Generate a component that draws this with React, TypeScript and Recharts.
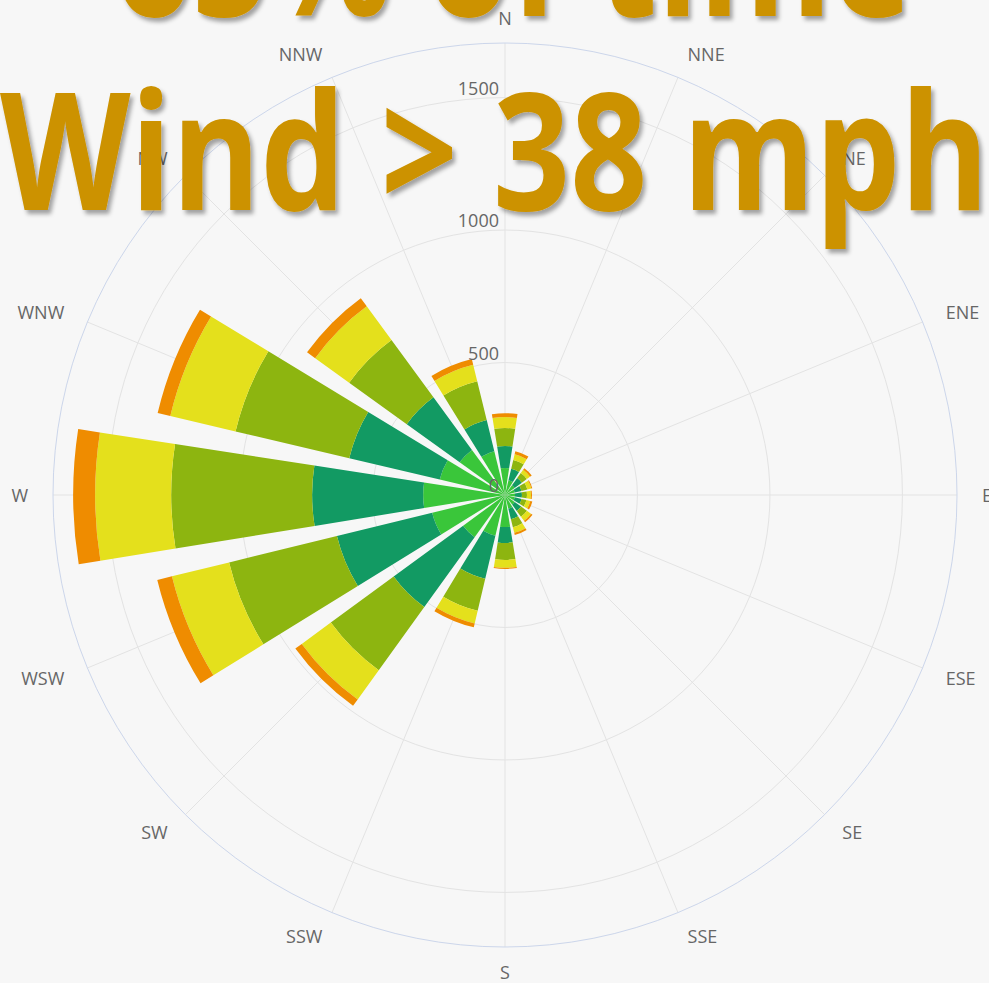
import React from "react";
import {
  RadialBarChart,
  RadialBar,
  PolarAngleAxis,
  PolarRadiusAxis,
  PolarGrid,
} from "recharts";

// wind directions, clockwise from north
const directions = [
  "N", "NNE", "NE", "ENE", "E", "ESE", "SE", "SSE",
  "S", "SSW", "SW", "WSW", "W", "WNW", "NW", "NNW",
];
// compass bearing of each direction (degrees)
const bearings = [
  0, 22.5, 45, 67.5, 90, 112.5, 135, 157.5,
  180, 202.5, 225, 247.5, 270, 292.5, 315, 337.5,
];

// frequency per speed band (innermost band first)
const band1 = [102, 57, 45, 38, 38, 38, 45, 53, 121, 158, 196, 283, 309, 253, 211, 170];
const band2 = [83, 45, 34, 26, 26, 26, 30, 41, 60, 167, 325, 370, 419, 351, 246, 121];
const band3 = [68, 34, 23, 23, 19, 19, 27, 31, 64, 124, 294, 419, 532, 441, 268, 151];
const band4 = [41, 22, 15, 15, 15, 15, 19, 22, 30, 49, 136, 222, 287, 253, 158, 64];
const band5 = [15, 12, 8, 4, 4, 8, 7, 8, 4, 15, 30, 57, 83, 49, 38, 22];

const radiusTicks = [0, 500, 1000, 1500];

const bandColors = ["#3ac63a", "#129a63", "#8db510", "#e4e01c", "#ef8c00"];
const bandKeys = ["b1", "b2", "b3", "b4", "b5"];

const data = directions.map((dir, i) => ({
  dir,
  bearing: bearings[i],
  b1: band1[i],
  b2: band2[i],
  b3: band3[i],
  b4: band4[i],
  b5: band5[i],
}));

const labelFont = "'Open Sans', sans-serif";

// direction labels: anchored away from the circle, vertically centred
const AngleTick = (props: any) => {
  const { x, y, payload, textAnchor } = props;
  const idx = bearings.indexOf(payload.value);
  return (
    <text
      x={x}
      y={y}
      textAnchor={textAnchor}
      dominantBaseline="central"
      fill="#666"
      fontSize={18}
      fontFamily={labelFont}
    >
      {directions[idx]}
    </text>
  );
};

// radius labels sit just above each circle, left of the north spoke
const RadiusTick = (props: any) => {
  const { x, y, payload } = props;
  return (
    <text
      x={x - 6}
      y={y - 3}
      textAnchor="end"
      fill="#666"
      fontSize={18}
      fontFamily={labelFont}
    >
      {payload.value}
    </text>
  );
};

export default function App() {
  return (
    <div
      style={{
        position: "fixed",
        left: 0,
        top: 0,
        width: 989,
        height: 983,
        background: "#f7f7f7",
        overflow: "hidden",
      }}
    >
      <RadialBarChart
        width={989}
        height={983}
        data={data}
        layout="centric"
        cx={505}
        cy={495}
        innerRadius={0}
        outerRadius={452}
        startAngle={90}
        endAngle={-270}
        barCategoryGap="11%"
        margin={{ top: 0, right: 0, bottom: 0, left: 0 }}
      >
        <PolarGrid gridType="circle" stroke="#e3e3e3" />
        <PolarAngleAxis
          dataKey="bearing"
          type="number"
          domain={[0, 360]}
          ticks={bearings}
          axisLine={{ stroke: "#ccd6eb" }}
          axisLineType="circle"
          tickLine={false}
          tickSize={25}
          tick={<AngleTick />}
        />
        <PolarRadiusAxis
          type="number"
          angle={90}
          domain={[0, 1706]}
          ticks={radiusTicks}
          allowDataOverflow
          axisLine={false}
          tickLine={false}
          tick={<RadiusTick />}
        />
        {bandKeys.map((k, i) => (
          <RadialBar
            key={k}
            dataKey={k}
            stackId="wind"
            fill={bandColors[i]}
            isAnimationActive={false}
          />
        ))}
      </RadialBarChart>

      <svg
        width={989}
        height={983}
        style={{ position: "absolute", left: 0, top: 0, pointerEvents: "none" }}
      >
        <defs>
          <filter id="shadow" x="-10%" y="-10%" width="120%" height="130%">
            <feDropShadow dx="3" dy="4" stdDeviation="2" floodColor="#000" floodOpacity="0.35" />
          </filter>
        </defs>
        <g
          fill="#cc9200"
          fontFamily="'Open Sans', sans-serif"
          fontWeight={700}
          fontSize={164}
          filter="url(#shadow)"
        >
          <text x={114} y={16} textLength={798} lengthAdjust="spacingAndGlyphs">
            65% of time
          </text>
          <text x={0} y={210} textLength={989} lengthAdjust="spacingAndGlyphs">
            Wind &gt; 38 mph
          </text>
        </g>
      </svg>
    </div>
  );
}
